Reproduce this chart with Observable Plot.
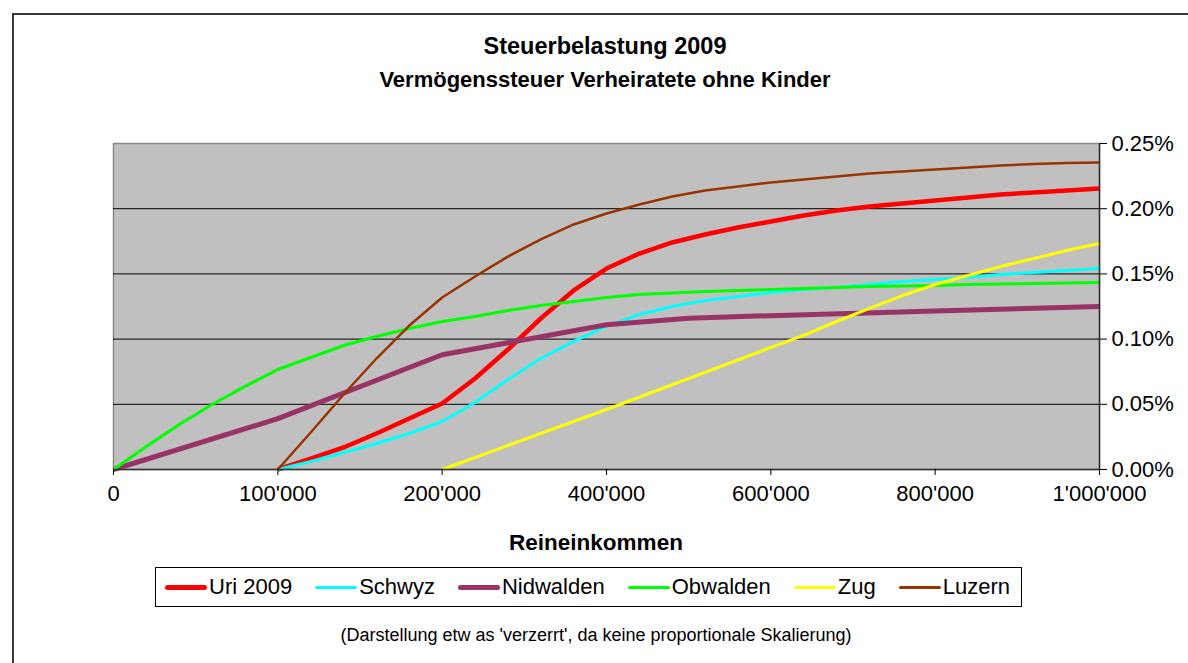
<!DOCTYPE html>
<html>
<head>
<meta charset="utf-8">
<script src="https://cdn.jsdelivr.net/npm/d3@7"></script>
<script src="https://cdn.jsdelivr.net/npm/@observablehq/plot@0.6"></script>
<style>
  body { margin: 0; background: #fff; font-family: "Liberation Sans", Arial, sans-serif; }
  #wrap { position: relative; width: 1188px; height: 663px; overflow: hidden; background: #fff; }
  #border { position: absolute; left: 12px; top: 13px; width: 1300px; height: 800px; border-left: 2px solid #3a3a3a; border-top: 2px solid #3a3a3a; }
  #chart { position: absolute; left: 0; top: 0; }
  .title { position: absolute; left: 0; width: 1210px; text-align: center; font-weight: bold; color: #000; white-space: nowrap; }
  #t1 { top: 33px; font-size: 23.5px; }
  #t2 { top: 67px; font-size: 22px; }
  #xlabel { position: absolute; left: 0; width: 1192px; top: 530px; text-align: center; font-weight: bold; font-size: 22.5px; }
  #legend { position: absolute; left: 155px; top: 567px; width: 867px; height: 40px; border: 1px solid #000; display: flex; align-items: center; padding-left: 9px; box-sizing: border-box; background: #fff; }
  .item { display: flex; align-items: center; margin-right: 23px; font-size: 22px; white-space: nowrap; }
  .sw { width: 42px; margin-right: 2px; border-radius: 3px; }
  #caption { position: absolute; left: 0; width: 1192px; top: 625px; text-align: center; font-size: 18px; white-space: nowrap; }
</style>
</head>
<body>
<div id="wrap">
  <div id="border"></div>
  <div id="chart"></div>
  <div class="title" id="t1">Steuerbelastung 2009</div>
  <div class="title" id="t2">Vermögenssteuer Verheiratete ohne Kinder</div>
  <div id="xlabel">Reineinkommen</div>
  <div id="legend"></div>
  <div id="caption">(Darstellung etw as 'verzerrt', da keine proportionale Skalierung)</div>
</div>
<script>
// ---- Data (Steuerbelastung in % des Vermögens) ----
const xTicks = [0, 100000, 200000, 400000, 600000, 800000, 1000000];
const yTicks = [0, 0.05, 0.10, 0.15, 0.20, 0.25];

const seriesNames = ["Uri 2009", "Schwyz", "Nidwalden", "Obwalden", "Zug", "Luzern"];
const seriesColors = ["#ff0000", "#00ffff", "#993366", "#00ff00", "#ffff00", "#993300"];

const xFrom100k = [100000, 120000, 140000, 160000, 180000, 200000, 240000, 280000, 320000, 360000, 400000,
  440000, 480000, 520000, 560000, 600000, 640000, 680000, 720000, 760000, 800000,
  840000, 880000, 920000, 960000, 1000000];
const xFrom0 = [0, 20000, 40000, 60000, 80000, 100000, 120000, 140000, 160000, 180000, 200000,
  240000, 280000, 320000, 360000, 400000, 440000, 480000, 520000, 560000, 600000,
  640000, 680000, 720000, 760000, 800000, 840000, 880000, 920000, 960000, 1000000];

const uri = [0, 0.0084, 0.0169, 0.0276, 0.0391, 0.0506, 0.0698, 0.092, 0.1158, 0.1373, 0.1541,
  0.1656, 0.1741, 0.1802, 0.1856, 0.1902, 0.1948, 0.1986, 0.2017, 0.204, 0.2063,
  0.2086, 0.2109, 0.2124, 0.214, 0.2155];
const schwyz = [0, 0.0061, 0.013, 0.0199, 0.0276, 0.0368, 0.0514, 0.069, 0.0851, 0.0982, 0.1097,
  0.1189, 0.125, 0.1296, 0.1327, 0.1357, 0.138, 0.1396, 0.1419, 0.1442, 0.1457,
  0.1472, 0.1495, 0.1511, 0.1526, 0.1541];
const luzern = [0, 0.0284, 0.0575, 0.0851, 0.1104, 0.1319, 0.148, 0.1633, 0.1764, 0.1879, 0.1963,
  0.2032, 0.2094, 0.214, 0.217, 0.2201, 0.2224, 0.2247, 0.227, 0.2285, 0.2301,
  0.2316, 0.2331, 0.2343, 0.235, 0.2354];
const obwalden = [0, 0.0176, 0.0345, 0.0498, 0.0637, 0.0767, 0.0859, 0.0951, 0.102, 0.1081, 0.1135,
  0.1173, 0.1219, 0.1258, 0.1288, 0.1319, 0.1342, 0.1354, 0.1365, 0.1373, 0.138,
  0.1388, 0.1396, 0.1403, 0.1407, 0.1411, 0.1419, 0.1423, 0.1426, 0.143, 0.1434];
const xNidwalden = [0, 100000, 200000, 400000, 500000, 600000, 800000, 1000000];
const nidwalden = [0, 0.039, 0.088, 0.111, 0.116, 0.118, 0.1215, 0.125];
const xZug = [200000, 400000, 600000, 640000, 680000, 720000, 760000, 800000, 840000, 880000, 920000, 960000, 1000000];
const zug = [0, 0.046, 0.0936, 0.1028, 0.1135, 0.1235, 0.1334, 0.1419, 0.1488, 0.1557, 0.1618, 0.1679, 0.1733];

const seriesX = [xFrom100k, xFrom100k, xNidwalden, xFrom0, xZug, xFrom100k];
const seriesY = [uri, schwyz, nidwalden, obwalden, zug, luzern];
const seriesWidth = [4.5, 3, 5, 3, 3, 2.5];

const rows = seriesNames.flatMap((name, s) =>
  seriesX[s].map((x, i) => ({ name, x, y: seriesY[s][i] })));

const fmtX = d => d3.format(",")(d).replace(/,/g, "'");

const left = 113, right = 1099, W = 1188;
const xRange = xTicks.map((_, i) => left + i * (right - left) / (xTicks.length - 1));

const chart = Plot.plot({
  width: W, height: 560,
  marginLeft: left, marginRight: W - right, marginTop: 143, marginBottom: 91,
  style: { fontFamily: "'Liberation Sans', Arial, sans-serif", fontSize: "22px", color: "#000", background: "transparent" },
  x: { type: "linear", domain: xTicks, range: xRange },
  y: { domain: [0, 0.25] },
  marks: [
    Plot.frame({ fill: "#c0c0c0", stroke: "#8a8a8a", strokeWidth: 1.5 }),
    Plot.gridY([0.05, 0.10, 0.15, 0.20], { stroke: "#000", strokeOpacity: 1, strokeWidth: 1 }),
    ...seriesNames.map((name, s) => Plot.line(rows.filter(r => r.name === name), {
      x: "x", y: "y", stroke: seriesColors[s], strokeWidth: seriesWidth[s], strokeLinejoin: "round", strokeLinecap: "butt"
    })),
    Plot.ruleY([0], { stroke: "#333", strokeWidth: 1.5 }),
    Plot.ruleX([1000000], { stroke: "#333", strokeWidth: 1.5 }),
    Plot.axisY(yTicks, { anchor: "right", tickFormat: d => d.toFixed(2) + "%", tickSize: 7, tickPadding: 5, fontSize: 22, label: null, stroke: "#000" }),
    Plot.axisX(xTicks, { anchor: "bottom", tickFormat: fmtX, tickSize: 6, tickPadding: 10, fontSize: 22, label: null, stroke: "#000" })
  ]
});
document.getElementById("chart").appendChild(chart);

// Legend
const legend = document.getElementById("legend");
seriesNames.forEach((name, s) => {
  const it = document.createElement("div");
  it.className = "item";
  const sw = document.createElement("div");
  sw.className = "sw";
  sw.style.background = seriesColors[s];
  sw.style.height = (seriesWidth[s] >= 4 ? 5 : 3) + "px";
  const tx = document.createElement("span");
  tx.textContent = name;
  it.appendChild(sw); it.appendChild(tx);
  legend.appendChild(it);
});
</script>
</body>
</html>
